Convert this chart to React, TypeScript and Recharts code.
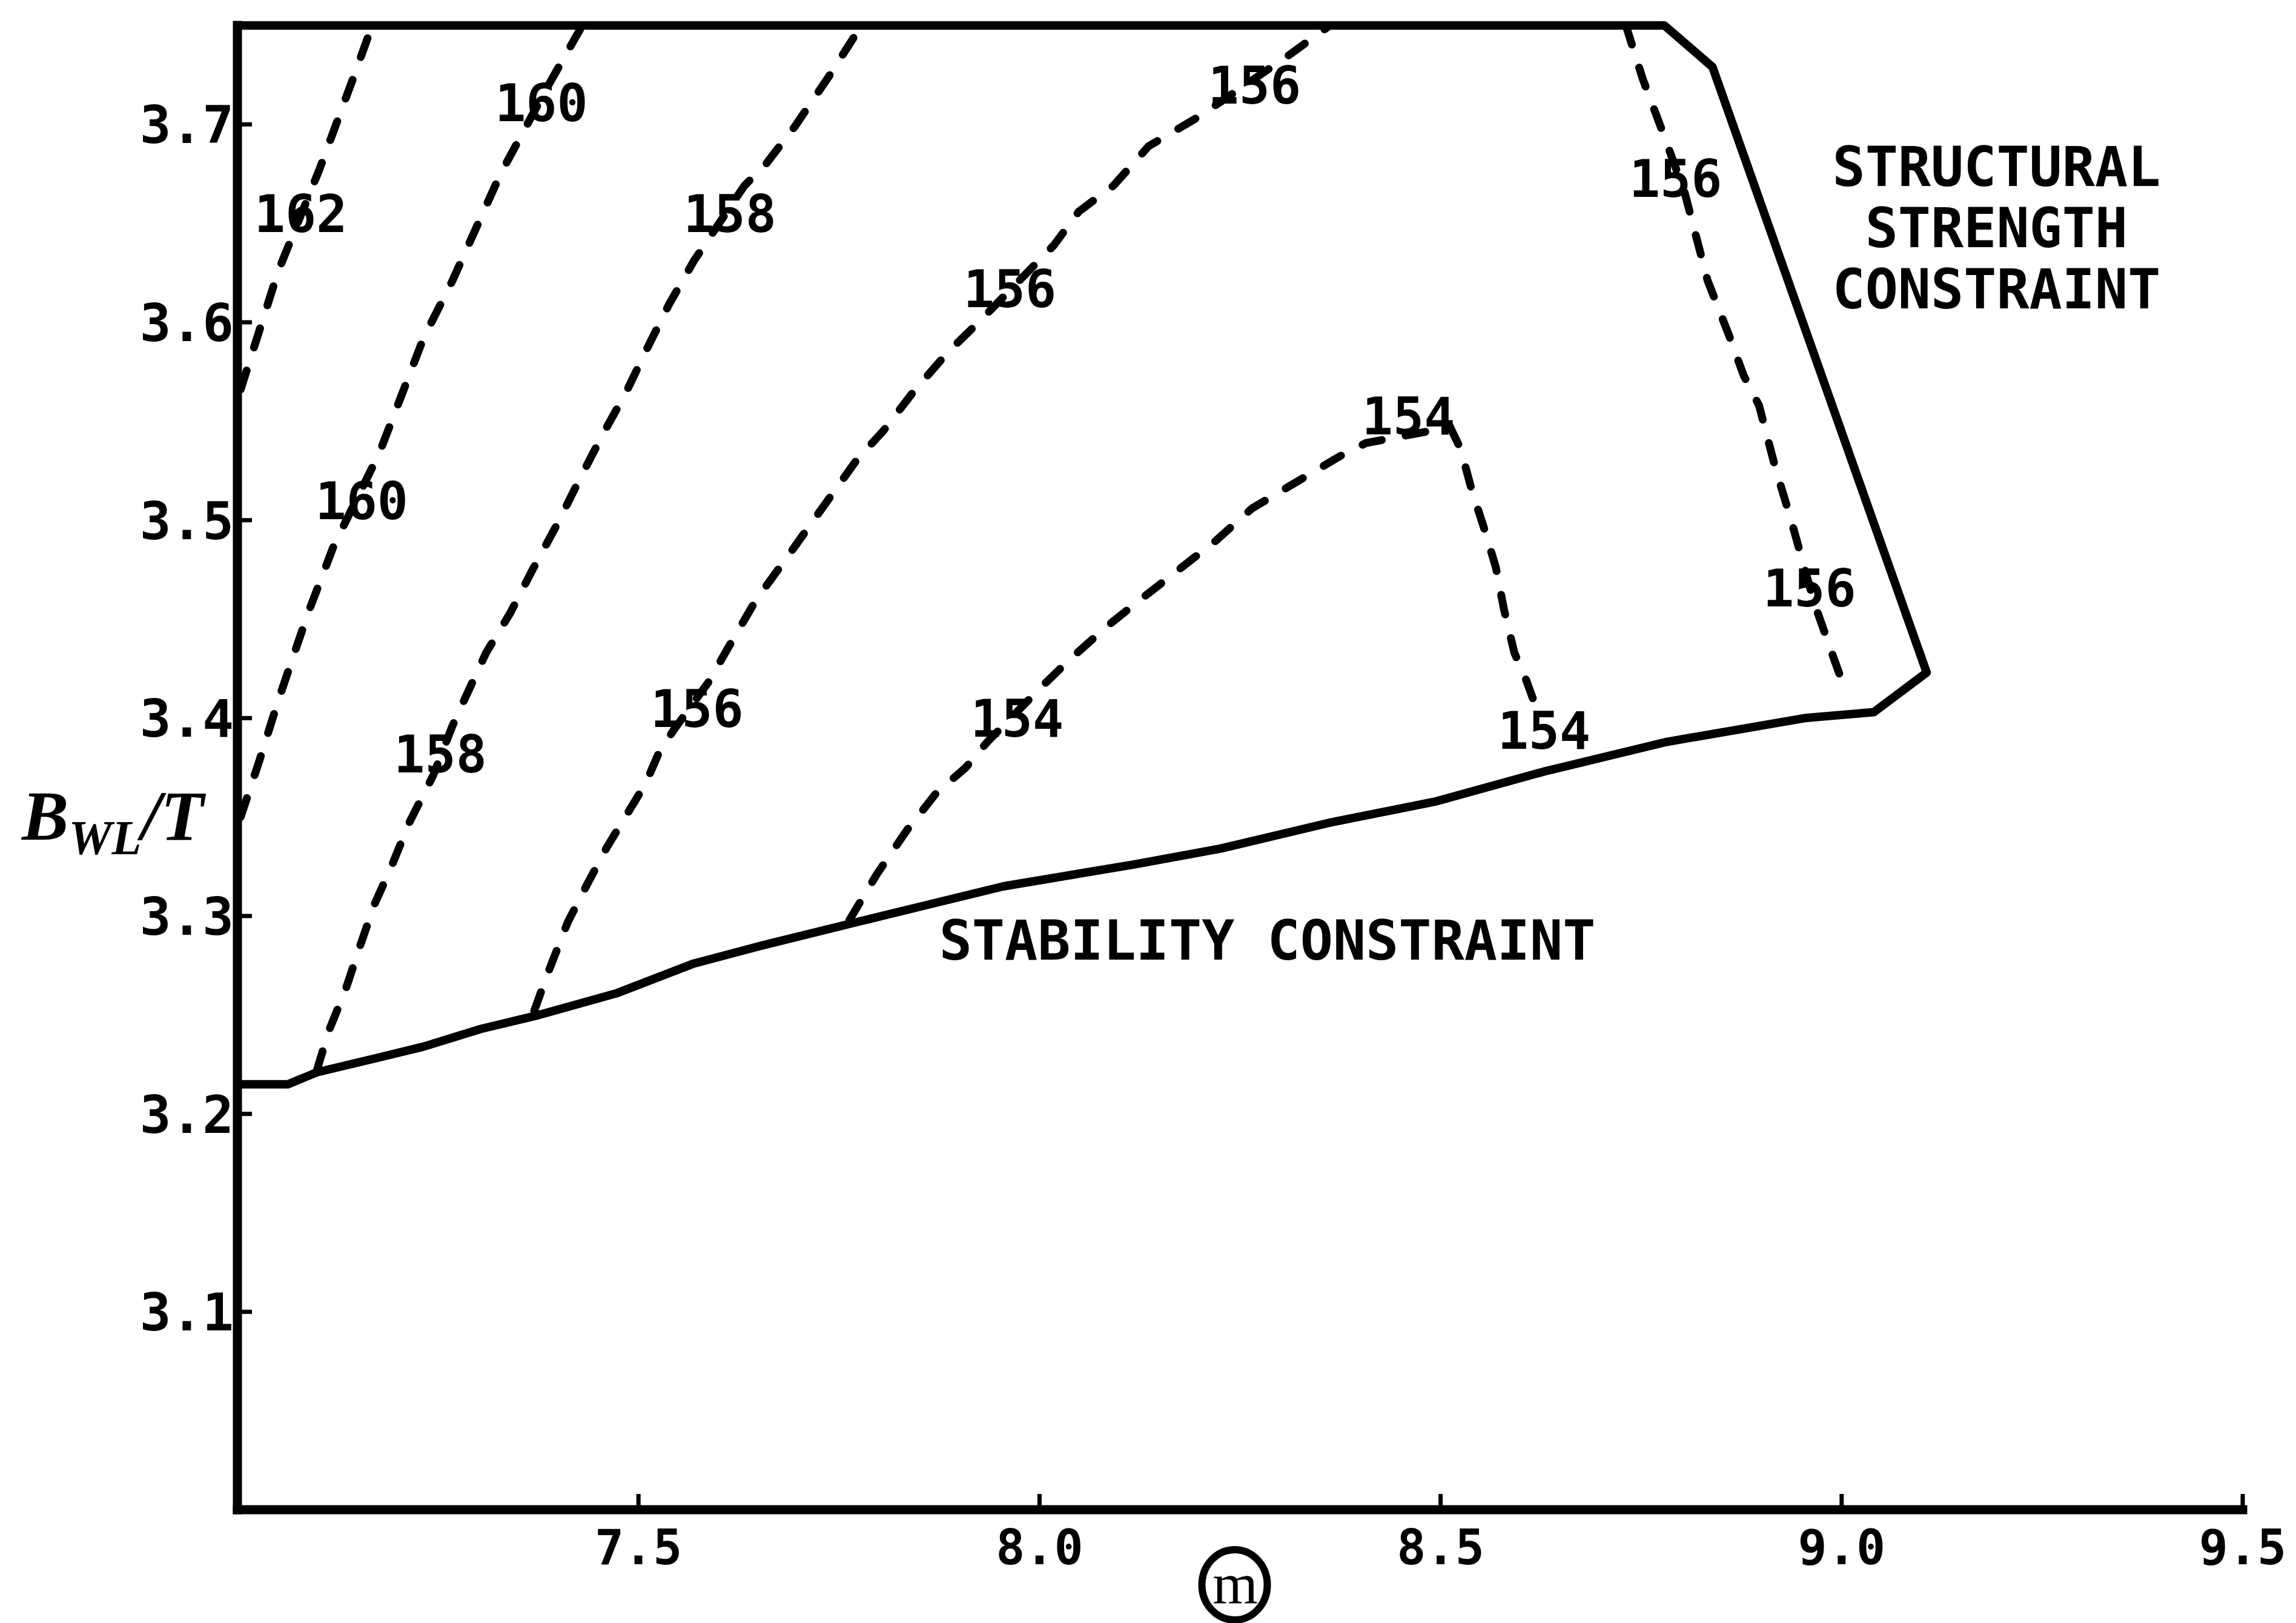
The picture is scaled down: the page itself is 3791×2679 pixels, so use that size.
import React from "react";
import { LineChart, Line, XAxis, YAxis, ReferenceDot } from "recharts";

type Pt = { x: number; y: number };

const mono = "'DejaVu Sans Mono', 'Liberation Mono', monospace";
const serif = "'Liberation Serif', 'DejaVu Serif', serif";

const xTicks = [7.5, 8.0, 8.5, 9.0, 9.5];
const yTicks = [3.1, 3.2, 3.3, 3.4, 3.5, 3.6, 3.7];

const pts = (rows: number[][]): Pt[] => rows.map(([x, y]) => ({ x, y }));

// feasible region: stability constraint (bottom), structural strength constraint (right), top edge
const boundary = pts([
  [7.0, 3.215], [7.063, 3.215], [7.099, 3.221], [7.171, 3.228], [7.232, 3.234],
  [7.304, 3.243], [7.376, 3.25], [7.473, 3.261], [7.569, 3.276], [7.653, 3.285],
  [7.773, 3.297], [7.955, 3.315], [8.117, 3.326], [8.225, 3.334], [8.36, 3.347],
  [8.495, 3.358], [8.629, 3.373], [8.782, 3.388], [8.954, 3.4], [9.04, 3.403],
  [9.106, 3.423], [8.839, 3.729], [8.779, 3.75], [7.0, 3.75],
]);

const contour162 = pts([
  [7.004, 3.566], [7.051, 3.626], [7.102, 3.677], [7.144, 3.723], [7.168, 3.75],
]);

const contour160 = pts([
  [7.004, 3.35], [7.027, 3.378], [7.051, 3.409], [7.088, 3.453], [7.12, 3.487],
  [7.177, 3.534], [7.232, 3.592], [7.268, 3.621], [7.328, 3.675], [7.388, 3.72],
  [7.43, 3.75],
]);

const contour158 = pts([
  [7.099, 3.222], [7.114, 3.242], [7.135, 3.263], [7.153, 3.285], [7.171, 3.306],
  [7.193, 3.326], [7.214, 3.347], [7.244, 3.371], [7.268, 3.396], [7.286, 3.412],
  [7.31, 3.433], [7.34, 3.453], [7.368, 3.475], [7.4, 3.499], [7.427, 3.521],
  [7.455, 3.543], [7.485, 3.565], [7.511, 3.587], [7.538, 3.609], [7.569, 3.631],
  [7.632, 3.669], [7.659, 3.68], [7.695, 3.699], [7.737, 3.724], [7.778, 3.75],
]);

const contour156Left = pts([
  [7.37, 3.252], [7.385, 3.269], [7.412, 3.297], [7.436, 3.316], [7.461, 3.335],
  [7.485, 3.351], [7.509, 3.367], [7.526, 3.383], [7.544, 3.394], [7.587, 3.418],
  [7.611, 3.435], [7.647, 3.46], [7.683, 3.48], [7.713, 3.497], [7.743, 3.514],
  [7.773, 3.531], [7.805, 3.545], [7.843, 3.565], [7.886, 3.585], [7.924, 3.6],
  [8.018, 3.639], [8.049, 3.656], [8.092, 3.669], [8.136, 3.689], [8.199, 3.704],
  [8.311, 3.735], [8.362, 3.75],
]);

const contour154 = pts([
  [7.763, 3.298], [7.797, 3.321], [7.834, 3.343], [7.871, 3.362], [7.908, 3.375],
  [7.935, 3.388], [8.003, 3.416], [8.036, 3.429], [8.083, 3.446], [8.123, 3.459],
  [8.164, 3.472], [8.218, 3.489], [8.265, 3.506], [8.319, 3.519], [8.373, 3.532],
  [8.407, 3.539], [8.512, 3.547], [8.525, 3.536], [8.539, 3.515], [8.555, 3.495],
  [8.569, 3.476], [8.579, 3.455], [8.592, 3.433], [8.606, 3.42], [8.623, 3.401],
]);

const contour156Right = pts([
  [8.731, 3.75], [8.752, 3.723], [8.777, 3.696], [8.804, 3.666], [8.833, 3.621],
  [8.859, 3.594], [8.878, 3.573], [8.897, 3.558], [8.917, 3.527], [8.937, 3.5],
  [8.966, 3.458], [8.986, 3.435], [9.001, 3.418],
]);

const contours = [
  { id: "162", data: contour162 },
  { id: "160", data: contour160 },
  { id: "158", data: contour158 },
  { id: "156a", data: contour156Left },
  { id: "154", data: contour154 },
  { id: "156b", data: contour156Right },
];

const contourLabels = [
  { text: "162", x: 7.079, y: 3.655 },
  { text: "160", x: 7.379, y: 3.711 },
  { text: "160", x: 7.155, y: 3.51 },
  { text: "158", x: 7.614, y: 3.655 },
  { text: "158", x: 7.253, y: 3.382 },
  { text: "156", x: 7.573, y: 3.405 },
  { text: "156", x: 7.963, y: 3.617 },
  { text: "156", x: 8.268, y: 3.72 },
  { text: "156", x: 8.793, y: 3.673 },
  { text: "156", x: 8.96, y: 3.466 },
  { text: "154", x: 7.972, y: 3.4 },
  { text: "154", x: 8.46, y: 3.553 },
  { text: "154", x: 8.629, y: 3.394 },
];

const constraintLabels = [
  { lines: ["STABILITY CONSTRAINT"], x: 8.284, y: 3.288 },
  { lines: ["STRUCTURAL", "STRENGTH", "CONSTRAINT"], x: 9.193, y: 3.648 },
];

function XTick(props: any) {
  const { x, y, payload } = props;
  return (
    <g>
      <line x1={x} x2={x} y1={y} y2={y - 26} stroke="#000" strokeWidth={7} />
      <text x={x} y={y + 90} textAnchor="middle" fontFamily={mono} fontWeight="bold" fontSize={80} fill="#000">
        {Number(payload.value).toFixed(1)}
      </text>
    </g>
  );
}

function YTick(props: any) {
  const { x, y, payload } = props;
  return (
    <g>
      <line x1={x} x2={x + 24} y1={y} y2={y} stroke="#000" strokeWidth={7} />
      <text x={x - 6} y={y + 31} textAnchor="end" fontFamily={mono} fontWeight="bold" fontSize={86} fill="#000">
        {Number(payload.value).toFixed(1)}
      </text>
    </g>
  );
}

function YTitle(props: any) {
  const vb = props.viewBox || { x: 0, y: 42, width: 392, height: 2450 };
  const base = vb.y + vb.height / 2 + 119;
  return (
    <text x={vb.x + 36} y={base} fontFamily={serif} fontStyle="italic" fontWeight="bold" fontSize={116} fill="#000">
      B
      <tspan fontSize={80} dy={24}>WL</tspan>
      <tspan fontSize={116} dy={-24}>/T</tspan>
    </text>
  );
}

function XTitle(props: any) {
  const vb = props.viewBox || { x: 392, y: 2492, width: 3311, height: 187 };
  const cx = vb.x + vb.width / 2 - 9;
  const cy = vb.y + 124;
  return (
    <g>
      <ellipse cx={cx} cy={cy} rx={54} ry={58} fill="none" stroke="#000" strokeWidth={12} />
      <text x={cx + 1} y={cy + 30} textAnchor="middle" fontFamily={serif} fontSize={96} fill="#000">
        m
      </text>
    </g>
  );
}

export default function App() {
  return (
    <div style={{ position: "absolute", left: 0, top: 0, width: 3791, height: 2679, background: "#fff" }}>
      <LineChart width={3791} height={2679} margin={{ top: 42, right: 88, bottom: 0, left: 0 }}>
        <XAxis
          type="number"
          dataKey="x"
          domain={[7, 9.5]}
          ticks={xTicks}
          interval={0}
          height={187}
          tickSize={0}
          tickMargin={0}
          tickLine={false}
          axisLine={{ stroke: "#000", strokeWidth: 15, strokeLinecap: "square" }}
          tick={<XTick />}
          label={{ content: <XTitle /> }}
        />
        <YAxis
          type="number"
          dataKey="y"
          domain={[3, 3.75]}
          ticks={yTicks}
          interval={0}
          width={392}
          tickSize={0}
          tickMargin={0}
          tickLine={false}
          axisLine={{ stroke: "#000", strokeWidth: 15, strokeLinecap: "square" }}
          tick={<YTick />}
          label={{ content: <YTitle /> }}
        />
        <Line
          data={boundary}
          dataKey="y"
          type="linear"
          stroke="#000"
          strokeWidth={14}
          strokeLinejoin="round"
          strokeLinecap="round"
          dot={false}
          activeDot={false}
          isAnimationActive={false}
        />
        {contours.map((c) => (
          <Line
            key={c.id}
            data={c.data}
            dataKey="y"
            type="linear"
            stroke="#000"
            strokeWidth={13}
            strokeDasharray="33 40"
            strokeLinecap="round"
            dot={false}
            activeDot={false}
            isAnimationActive={false}
          />
        ))}
        {contourLabels.map((l, i) => (
          <ReferenceDot
            key={"c" + i}
            x={l.x}
            y={l.y}
            r={0}
            shape={(p: any) => (
              <text x={p.cx} y={p.cy + 31} textAnchor="middle" fontFamily={mono} fontWeight="bold" fontSize={85} fill="#000">
                {l.text}
              </text>
            )}
          />
        ))}
        {constraintLabels.map((l, i) => (
          <ReferenceDot
            key={"k" + i}
            x={l.x}
            y={l.y}
            r={0}
            shape={(p: any) => (
              <text textAnchor="middle" fontFamily={mono} fontWeight="bold" fontSize={90} fill="#000">
                {l.lines.map((s, j) => (
                  <tspan key={j} x={p.cx} y={p.cy + (j - (l.lines.length - 1) / 2) * 101 + 33}>
                    {s}
                  </tspan>
                ))}
              </text>
            )}
          />
        ))}
      </LineChart>
    </div>
  );
}
